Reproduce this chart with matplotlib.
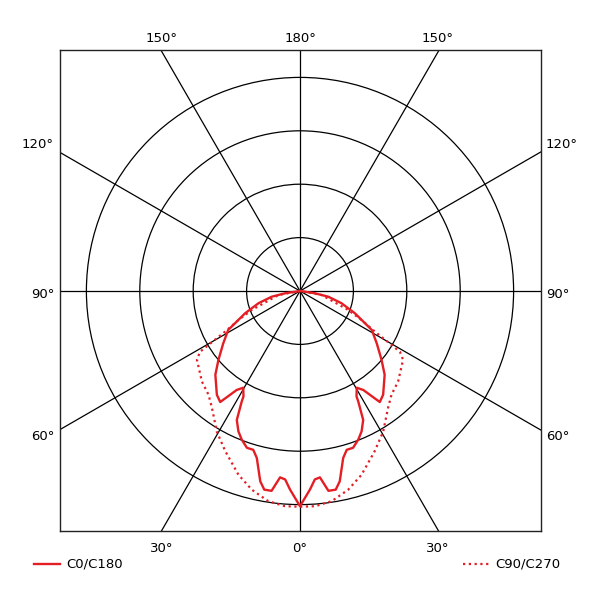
import numpy as np
import matplotlib
matplotlib.use("Agg")
import matplotlib.pyplot as plt
from matplotlib.patches import Circle

# ---- data (gamma in degrees from nadir, intensity in ring units) ----
c0_gamma = [0, 2.9, 4.5, 6.1, 8.1, 10.2, 11.8, 14.5, 16.4, 18.7, 21.4, 23.7, 26.1,
            27.8, 28.2, 30.4, 32.6, 35.7, 38.7, 45.3, 49.8, 55.7, 61.5, 67.9, 73.6,
            78.6, 81.3, 90]
c0_int = [4.03, 3.72, 3.54, 3.51, 3.78, 3.78, 3.64, 3.23, 3.10, 3.10, 2.99, 2.87, 2.69,
          2.34, 2.24, 2.10, 2.20, 2.56, 2.49, 2.23, 2.00, 1.74, 1.53, 1.11, 0.81,
          0.54, 0.28, 0.0]

c90_gamma = [0, 4.0, 8.6, 13.6, 18.5, 25.0, 30.6, 37.0, 41.4, 47.3, 56.3, 58.7, 59.5,
             61.5, 64.8, 68.5, 79.6, 90]
c90_int = [4.04, 4.04, 3.98, 3.83, 3.63, 3.31, 3.06, 2.74, 2.59, 2.50, 2.32, 2.19, 1.99,
           1.60, 1.27, 0.97, 0.41, 0.0]

ring_values = [1, 2, 3, 4]
spoke_angles = [0, 30, 60, 90, 120, 150]
labels_left = ["120°", "90°", "60°"]
labels_top = ["150°", "180°", "150°"]
labels_bottom = ["30°", "0°", "30°"]
legend_names = ["C0/C180", "C90/C270"]

RED = "#e31e24"


def full_curve(gamma, inten):
    g = np.radians(np.asarray(gamma, float))
    r = np.asarray(inten, float)
    xr = r * np.sin(g)
    yr = -r * np.cos(g)
    x = np.concatenate([-xr[::-1], xr[1:]])
    y = np.concatenate([yr[::-1], yr[1:]])
    return x, y


fig = plt.figure(figsize=(6, 6), dpi=100)
fig.patch.set_facecolor("white")
W = 600.0
ax = fig.add_axes([60 / W, 1 - 531 / W, 481 / W, 481 / W])
unit = 53.4
ax.set_xlim(-240 / unit, 241 / unit)
ax.set_ylim(-240 / unit, 241 / unit)
ax.set_aspect("equal")
ax.set_xticks([])
ax.set_yticks([])
for s in ax.spines.values():
    s.set_linewidth(1.0)
    s.set_color("#222222")

for rv in ring_values:
    ax.add_patch(Circle((0, 0), rv, fill=False, color="black", lw=0.9, zorder=1))
L = 10
for a in spoke_angles:
    t = np.radians(a)
    ax.plot([-L * np.sin(t), L * np.sin(t)], [L * np.cos(t), -L * np.cos(t)],
            color="black", lw=0.9, zorder=1)

x0, y0 = full_curve(c0_gamma, c0_int)
x9, y9 = full_curve(c90_gamma, c90_int)
ax.plot(x9, y9, color=RED, lw=1.6, linestyle=(0, (1, 1.6)), zorder=3)
ax.plot(x0, y0, color=RED, lw=1.7, zorder=4, solid_joinstyle="round")

fs = 9.5
font = "DejaVu Sans"
for lab, py in zip(labels_left, [144, 294, 437]):
    fig.text(54 / W, 1 - py / W, lab, ha="right", va="center", fontsize=fs, family=font)
    fig.text(546 / W, 1 - py / W, lab, ha="left", va="center", fontsize=fs, family=font)
for lab, px in zip(labels_top, [162, 300, 438]):
    fig.text(px / W, 1 - 38 / W, lab, ha="center", va="center", fontsize=fs, family=font)
for lab, px in zip(labels_bottom, [162, 300, 438]):
    fig.text(px / W, 1 - 548 / W, lab, ha="center", va="center", fontsize=fs, family=font)

ly = 1 - 564 / W
fig.add_artist(plt.Line2D([34 / W, 60 / W], [ly, ly], color=RED, lw=1.7))
fig.text(66 / W, ly, legend_names[0], ha="left", va="center", fontsize=fs, family=font)
fig.add_artist(plt.Line2D([463 / W, 490 / W], [ly, ly], color=RED, lw=1.6,
                          linestyle=(0, (1, 1.6))))
fig.text(495 / W, ly, legend_names[1], ha="left", va="center", fontsize=fs, family=font)

fig.savefig("out.png", dpi=100, facecolor="white")
